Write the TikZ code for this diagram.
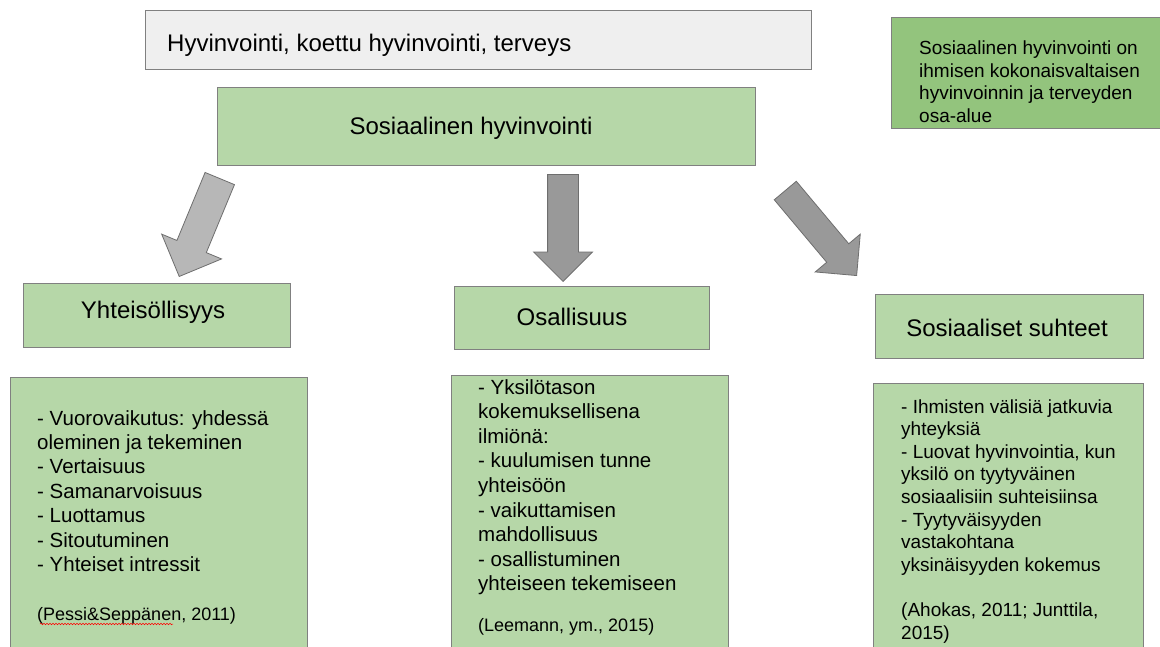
\documentclass[tikz,border=0pt]{standalone}
\usepackage{fontspec}
\setmainfont{Liberation Sans}
\usetikzlibrary{shapes.arrows,positioning,decorations.pathmorphing}
\definecolor{palegreen}{HTML}{B6D7A8}
\definecolor{notegreen}{HTML}{93C47D}
\definecolor{palegray}{HTML}{EFEFEF}
\definecolor{edgegray}{HTML}{808080}
\definecolor{arrowedge}{HTML}{6E6E6E}
\definecolor{arrowlight}{HTML}{B7B7B7}
\definecolor{arrowdark}{HTML}{999999}
\newcommand\headfont{\fontsize{24}{28}\selectfont}
\newcommand\bodyfont{\fontsize{20.5}{24.4}\selectfont}
\newcommand\smallbody{\fontsize{19}{22.6}\selectfont}
\newcommand\citefont{\fontsize{18}{22}\selectfont}
\tikzset{
  box/.style={rectangle, draw=edgegray, line width=1.2pt, fill=palegreen, inner sep=0pt, anchor=north west},
  bigarrow/.style={single arrow, draw=arrowedge, line width=0.8pt, inner xsep=0pt, single arrow tip angle=90, anchor=tip},
  line/.style={anchor=base west, inner sep=0pt}
}
\begin{document}
\begin{tikzpicture}[x=1pt,y=-1pt]
\useasboundingbox (0,0) rectangle (1160,647);
\fill[white] (0,0) rectangle (1160,647);

% top boxes
\node[box, fill=palegray, minimum width=666pt, minimum height=59pt] (frame) at (145,10) {};
\node[line, font=\headfont] (frametext) at (167,52) {Hyvinvointi, koettu hyvinvointi, terveys};
\node[box, minimum width=538pt, minimum height=78pt] (social) at (217,87) {};
\node[anchor=base, inner sep=0pt, font=\headfont] (socialtext) at (471,135) {Sosiaalinen hyvinvointi};
\node[box, fill=notegreen, minimum width=290pt, minimum height=111pt] (note) at (891,17) {};
\foreach \t [count=\i] in {Sosiaalinen hyvinvointi on, ihmisen kokonaisvaltaisen, hyvinvoinnin ja terveyden, osa-alue}
  \node[line, font=\smallbody] (note-\i) at (919,{55+22.5*(\i-1)}) {\t};

% block arrows
\node[bigarrow, fill=arrowlight, rotate=247.5, minimum height=106pt, inner ysep=15.5pt, single arrow head extend=16.5pt] (arrow-left) at (179,277) {};
\node[bigarrow, fill=arrowdark, rotate=270, minimum height=107pt, inner ysep=15pt, single arrow head extend=14pt] (arrow-mid) at (563,282) {};
\node[bigarrow, fill=arrowdark, rotate=310, minimum height=111pt, inner ysep=14pt, single arrow head extend=15pt] (arrow-right) at (857,276) {};

% second level
\node[box, minimum width=267pt, minimum height=64pt] (yhteis) at (23,283) {};
\node[anchor=base, inner sep=0pt, font=\headfont] (yhteistext) at (153,318) {Yhteisöllisyys};
\node[box, minimum width=255pt, minimum height=63pt] (osall) at (454,286) {};
\node[anchor=base, inner sep=0pt, font=\headfont] (osalltext) at (572,326) {Osallisuus};
\node[box, minimum width=268pt, minimum height=64pt] (suhteet) at (875,294) {};
\node[anchor=base, inner sep=0pt, font=\headfont] (suhteettext) at (1007,337) {Sosiaaliset suhteet};

% content boxes
\node[box, minimum width=297pt, minimum height=290pt] (yhteislist) at (10,377) {};
\foreach \t [count=\i] in {- Vuorovaikutus: yhdessä, oleminen ja tekeminen, - Vertaisuus, - Samanarvoisuus, - Luottamus, - Sitoutuminen, - Yhteiset intressit}
  \node[line, font=\bodyfont] (yh-\i) at (37,{425+24.4*(\i-1)}) {\t};
\node[line, font=\citefont] (yhteiscite) at (37,620) {(Pessi\&Seppänen, 2011)};
\draw[red, line width=0.5pt, decorate, decoration={snake, amplitude=0.8pt, segment length=3pt}] (40,624) -- (173,624);

\node[box, minimum width=277pt, minimum height=290pt] (osalllist) at (451,375) {};
\foreach \t [count=\i] in {- Yksilötason, kokemuksellisena, ilmiönä:, - kuulumisen tunne, yhteisöön, - vaikuttamisen, mahdollisuus, - osallistuminen, yhteiseen tekemiseen}
  \node[line, font=\bodyfont] (os-\i) at (478,{394+24.6*(\i-1)}) {\t};
\node[line, font=\citefont] (osallcite) at (478,631) {(Leemann, ym., 2015)};

\node[box, minimum width=270pt, minimum height=290pt] (suhteetlist) at (873,383) {};
\foreach \t [count=\i] in {- Ihmisten välisiä jatkuvia, yhteyksiä, {- Luovat hyvinvointia, kun}, yksilö on tyytyväinen, sosiaalisiin suhteisiinsa, - Tyytyväisyyden, vastakohtana, yksinäisyyden kokemus, {}, {(Ahokas, 2011; Junttila,}, 2015)}
  \node[line, font=\smallbody] (su-\i) at (901,{413+22.6*(\i-1)}) {\t};
\end{tikzpicture}
\end{document}
